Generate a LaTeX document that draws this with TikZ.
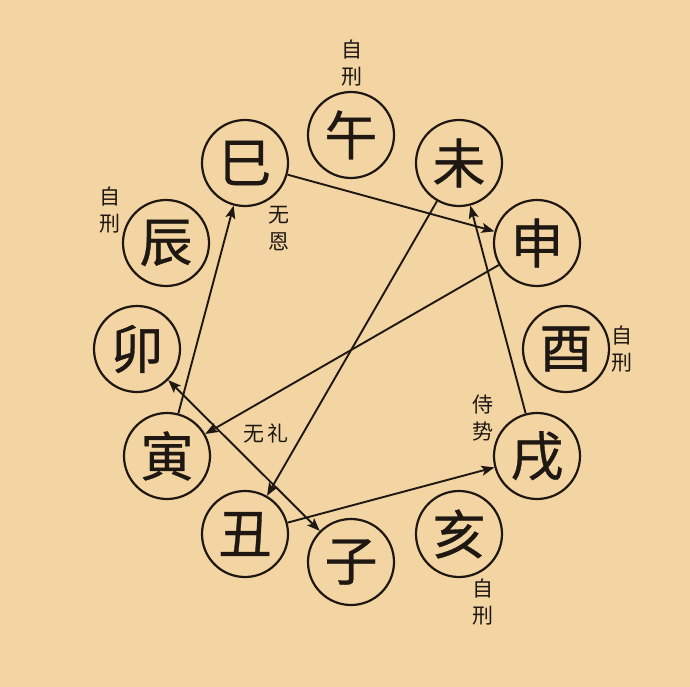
\documentclass[tikz,border=0pt]{standalone}
\usepackage{fontspec}
\newfontfamily\cjk[FakeBold=0.6]{Noto Sans CJK SC}
\newfontfamily\cjks{Noto Sans CJK SC}
\usetikzlibrary{arrows.meta}
\definecolor{bg}{HTML}{F2D5A3}
\definecolor{ink}{HTML}{1E1712}
\tikzset{
  branch/.style={circle, draw=ink, line width=2.2pt, minimum size=86pt, inner sep=0pt, font=\cjk\fontsize{53}{53}\selectfont, text=ink},
  note/.style={font=\cjks\fontsize{21}{27}\selectfont, text=ink, align=center, inner sep=0pt},
  link/.style={draw=ink, line width=1.9pt, -{Stealth[length=13pt,width=10pt,inset=3pt]}},
  dlink/.style={draw=ink, line width=1.9pt, {Stealth[length=13pt,width=10pt,inset=3pt]}-{Stealth[length=13pt,width=10pt,inset=3pt]}}
}
\begin{document}
\begin{tikzpicture}[x=1pt,y=-1pt]
\fill[bg] (0,0) rectangle (690,687);
\useasboundingbox (0,0) rectangle (690,687);
\node[branch] (wu)   at (351,135) {午};
\node[branch] (wei)  at (459,163) {未};
\node[branch] (shen) at (537,243) {申};
\node[branch] (you)  at (566,349) {酉};
\node[branch] (xu)   at (537,456) {戌};
\node[branch] (hai)  at (459,534) {亥};
\node[branch] (zi)   at (351,562) {子};
\node[branch] (chou) at (245,534) {丑};
\node[branch] (yin)  at (167,456) {寅};
\node[branch] (mao)  at (137,349) {卯};
\node[branch] (chen) at (166,243) {辰};
\node[branch] (si)   at (245,163) {巳};

\node[note] (n1) at (352,63) {自\\刑};
\node[note] (n2) at (110,210) {自\\刑};
\node[note] (n3) at (279,229) {无\\恩};
\node[note] (n4) at (622,349) {自\\刑};
\node[note] (n5) at (483,418) {侍\\势};
\node[note] (n6) at (483,602) {自\\刑};
\node[note] (n7) at (266,433) {无\hspace{3pt}礼};

\draw[link] (si) -- (shen);
\draw[link] (shen) -- (yin);
\draw[link] (yin) -- (si);
\draw[link] (wei) -- (chou);
\draw[link] (chou) -- (xu);
\draw[link] (xu) -- (wei);
\draw[dlink] (mao) -- (zi);
\end{tikzpicture}
\end{document}
